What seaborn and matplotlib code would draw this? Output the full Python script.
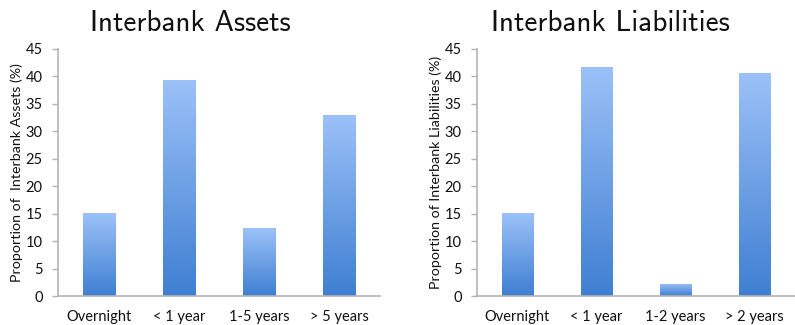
import numpy as np
import pandas as pd
import matplotlib
matplotlib.use("Agg")
import matplotlib.pyplot as plt
import seaborn as sns
from matplotlib.colors import LinearSegmentedColormap

# Maturity breakdown of interbank exposures (%)
asset_categories = ["Overnight", "< 1 year", "1-5 years", "> 5 years"]
asset_values = [15.1, 39.4, 12.3, 32.9]

liability_categories = ["Overnight", "< 1 year", "1-2 years", "> 2 years"]
liability_values = [15.1, 41.8, 2.2, 40.6]

y_ticks = [0, 5, 10, 15, 20, 25, 30, 35, 40, 45]

sns.set_theme(style="white")
plt.rcParams["font.family"] = ["Lato", "DejaVu Sans"]

grad = LinearSegmentedColormap.from_list("bar_grad", ["#3f7fd2", "#9cc1f8"])
gradient = np.linspace(0, 1, 256).reshape(-1, 1)

fig = plt.figure(figsize=(7.95, 3.25), dpi=100)
ax_left = fig.add_axes([58 / 795, 29 / 325, 322 / 795, 247 / 325])
ax_right = fig.add_axes([477 / 795, 29 / 325, 318 / 795, 247 / 325])

panels = [
    (ax_left, asset_categories, asset_values, "Interbank Assets",
     "Proportion of  Interbank Assets (%)", 0.41),
    (ax_right, liability_categories, liability_values, "Interbank Liabilities",
     "Proportion of Interbank Liabilities (%)", 0.42),
]

for ax, cats, vals, title, ylabel, title_x in panels:
    df = pd.DataFrame({"category": cats, "value": vals})
    sns.barplot(data=df, x="category", y="value", ax=ax, width=0.4,
                color="#6a9fe6", saturation=1, linewidth=0)

    # vertical light-to-dark gradient fill inside each bar
    for patch in ax.patches:
        x0, y0 = patch.get_x(), patch.get_y()
        w, h = patch.get_width(), patch.get_height()
        patch.set_facecolor("none")
        im = ax.imshow(gradient, cmap=grad, aspect="auto", origin="lower",
                       extent=(x0, x0 + w, y0, y0 + h), zorder=2)
        im.set_clip_path(patch)
    ax.set_xlim(-0.51, 3.51)
    ax.set_ylim(0, 45)
    ax.set_yticks(y_ticks)

    for side in ("top", "right"):
        ax.spines[side].set_visible(False)
    for side in ("left", "bottom"):
        ax.spines[side].set_color("#b4b4b4")
        ax.spines[side].set_linewidth(1.2)

    ax.tick_params(axis="y", left=True, length=4, width=1, color="#b4b4b4",
                   pad=7, labelsize=10.5, labelcolor="#111111")
    ax.tick_params(axis="x", bottom=False, pad=4, labelsize=10.5,
                   labelcolor="#111111")
    ax.set_xlabel("")
    ax.set_ylabel(ylabel, fontsize=10.3, color="#111111", labelpad=2)
    ax.set_title(title, fontsize=21, family=["cmss10", "DejaVu Sans"],
                 color="#111111", pad=13, x=title_x)

fig.savefig("out.png", dpi=100)
